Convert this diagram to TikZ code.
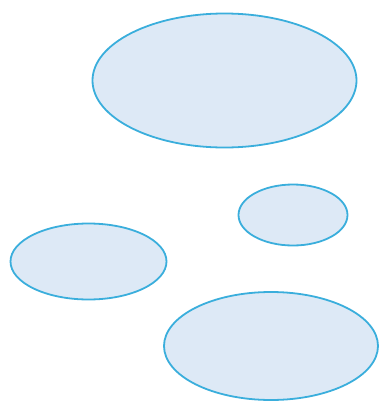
\documentclass[tikz,border=0pt]{standalone}
\usetikzlibrary{shapes.geometric}
\definecolor{blobline}{HTML}{3AAEDC}
\definecolor{blobfill}{HTML}{DDE9F6}
\tikzset{
  blob/.style={ellipse, draw=blobline, fill=blobfill, line width=1.8pt, inner sep=0pt},
}
\begin{document}
\begin{tikzpicture}[x=1pt, y=-1pt]
    \useasboundingbox (0,0) rectangle (379,402);
    \node[blob, minimum width=264pt, minimum height=134pt] (top) at (224.5,80.5) {};
    \node[blob, minimum width=109pt, minimum height=61pt] (small) at (293,215) {};
    \node[blob, minimum width=156pt, minimum height=76pt] (left) at (88.5,261.5) {};
    \node[blob, minimum width=214pt, minimum height=108pt] (big) at (271,346) {};
  \end{tikzpicture}
\end{document}
